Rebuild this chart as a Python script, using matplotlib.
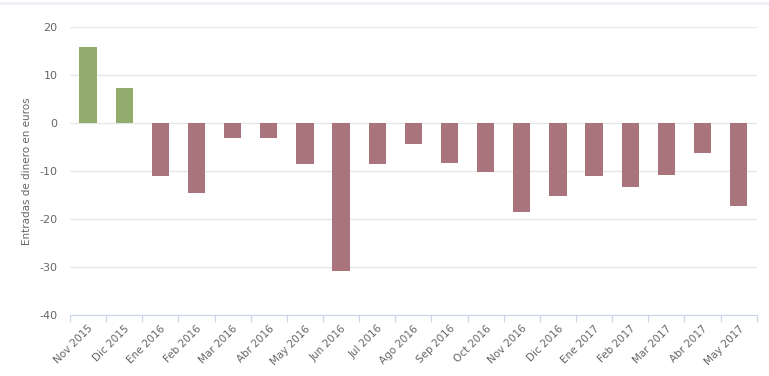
import matplotlib.pyplot as plt
import numpy as np

months = ["Nov 2015", "Dic 2015", "Ene 2016", "Feb 2016", "Mar 2016", "Abr 2016",
          "May 2016", "Jun 2016", "Jul 2016", "Ago 2016", "Sep 2016", "Oct 2016",
          "Nov 2016", "Dic 2016", "Ene 2017", "Feb 2017", "Mar 2017", "Abr 2017",
          "May 2017"]
values = [15.8, 7.3, -11.0, -14.6, -3.1, -3.1, -8.5, -30.9, -8.5, -4.4, -8.3,
          -10.1, -18.5, -15.1, -11.0, -13.3, -10.8, -6.3, -17.2]
yticks = [-40, -30, -20, -10, 0, 10, 20]

green = "#93ab6c"
red = "#a9747b"
text_col = "#666666"

fig = plt.figure(figsize=(7.69, 3.76), dpi=100)
ax = fig.add_axes([0.091, 0.162, 0.893, 0.766])

x = np.arange(len(months))
colors = [green if v >= 0 else red for v in values]
ax.bar(x, values, width=0.48, color=colors, zorder=3)

ax.set_xlim(-0.5, len(months) - 0.5)
ax.set_ylim(-40, 20)
ax.set_yticks(yticks)
ax.set_yticklabels([str(t) for t in yticks], fontsize=8, color=text_col)
ax.yaxis.grid(True, color="#e6e6e6", lw=0.9, zorder=0)
ax.tick_params(axis="y", length=0, pad=9)

# category labels at centres, divider ticks at boundaries
ax.set_xticks(x)
ax.set_xticklabels(months, rotation=45, ha="right", rotation_mode="anchor",
                   fontsize=7.5, color=text_col)
ax.tick_params(axis="x", which="major", length=0, pad=6)
ax.set_xticks(np.arange(-0.5, len(months), 1), minor=True)
ax.tick_params(axis="x", which="minor", length=5, color="#ccd6eb", width=0.9)

for s in ["top", "right", "left"]:
    ax.spines[s].set_visible(False)
ax.spines["bottom"].set_color("#ccd6eb")

ax.set_ylabel("Entradas de dinero en euros", fontsize=7.5, color=text_col, labelpad=5)

# light band along the top of the frame
fig.add_artist(plt.Line2D([0, 1], [0.993, 0.993], color="#eef0f5", lw=2,
                          transform=fig.transFigure))

fig.savefig("out.png", dpi=100)
